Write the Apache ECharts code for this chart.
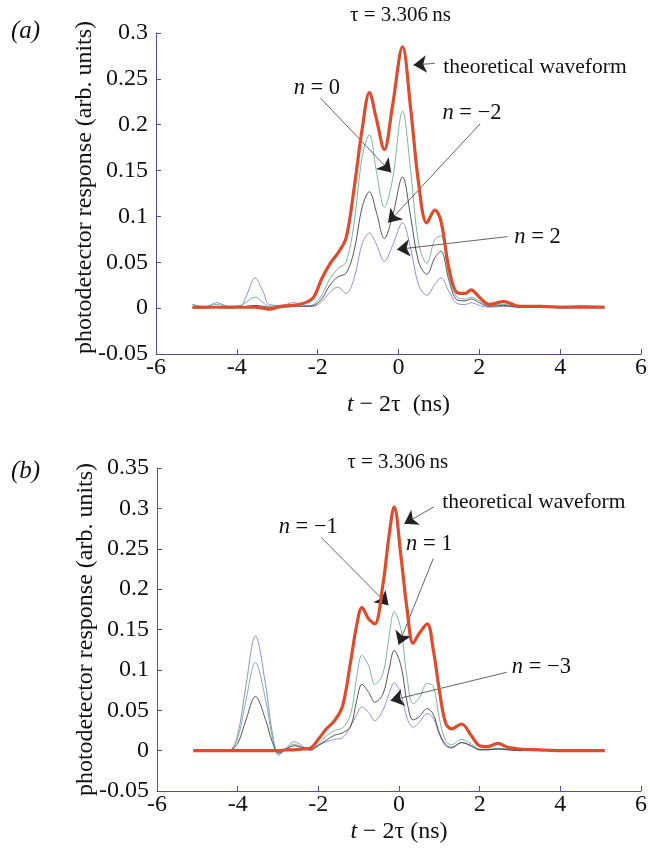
<!DOCTYPE html>
<html>
<head>
<meta charset="utf-8">
<script src="https://cdn.jsdelivr.net/npm/echarts@6/dist/echarts.min.js"></script>
<style>
  html, body { margin: 0; padding: 0; background: #fff; }
  #chart { width: 650px; height: 852px; }
</style>
</head>
<body>
<div id="chart"></div>
<script>
// ---- Panel (a): sample times (ns) and responses ----
const tA = [-5.1, -4.8, -4.5, -4.2, -3.9, -3.75, -3.55, -3.35, -3.2, -2.9, -2.6, -2.3, -2.1, -1.9, -1.7, -1.5, -1.3, -1.1, -0.9, -0.72, -0.55, -0.35, -0.15, 0.1, 0.3, 0.5, 0.7, 0.9, 1.05, 1.25, 1.45, 1.65, 1.8, 2.0, 2.25, 2.6, 3.0, 3.5, 4.0, 4.5, 5.1];
const theoryA = [0.001, 0.001, 0.001, 0.001, 0.001, 0.001, 0.001, 0.0, -0.001, 0.002, 0.003, 0.006, 0.012, 0.032, 0.048, 0.06, 0.076, 0.13, 0.195, 0.235, 0.207, 0.173, 0.22, 0.285, 0.218, 0.135, 0.093, 0.107, 0.095, 0.043, 0.017, 0.016, 0.02, 0.012, 0.004, 0.007, 0.002, 0.002, 0.001, 0.001, 0.001];
const nZeroA = [0.004, 0.002, 0.004, 0.002, 0.003, 0.007, 0.012, 0.006, 0.002, 0.003, 0.003, 0.002, 0.004, 0.014, 0.032, 0.043, 0.05, 0.092, 0.165, 0.189, 0.15, 0.11, 0.14, 0.215, 0.15, 0.07, 0.049, 0.075, 0.079, 0.035, 0.012, 0.01, 0.012, 0.008, 0.003, 0.004, 0.002, 0.003, 0.002, 0.003, 0.002];
const nMinus2A = [0.0, 0.0, 0.001, 0.0, 0.001, 0.002, 0.003, 0.002, 0.001, 0.001, 0.002, 0.002, 0.003, 0.01, 0.025, 0.034, 0.038, 0.062, 0.11, 0.127, 0.105, 0.076, 0.1, 0.143, 0.1, 0.05, 0.037, 0.055, 0.062, 0.03, 0.009, 0.008, 0.01, 0.006, 0.002, 0.003, 0.001, 0.002, 0.001, 0.002, 0.001];
const nPlus2A = [0.004, 0.001, 0.006, 0.002, 0.003, 0.015, 0.033, 0.018, 0.004, 0.003, 0.006, 0.003, 0.002, 0.007, 0.017, 0.023, 0.016, 0.032, 0.07, 0.082, 0.07, 0.051, 0.068, 0.093, 0.065, 0.025, 0.014, 0.026, 0.033, 0.018, 0.005, 0.004, 0.006, 0.003, 0.001, 0.002, 0.001, 0.001, 0.0, 0.001, 0.0];

// ---- Panel (b): sample times (ns) and responses ----
const tB = [-5.1, -4.8, -4.5, -4.2, -4.0, -3.8, -3.56, -3.3, -3.15, -2.98, -2.8, -2.6, -2.4, -2.2, -2.0, -1.8, -1.6, -1.4, -1.2, -1.05, -0.92, -0.75, -0.6, -0.4, -0.25, -0.12, 0.05, 0.2, 0.35, 0.5, 0.7, 0.85, 1.0, 1.15, 1.3, 1.55, 1.8, 2.0, 2.2, 2.45, 2.7, 3.0, 3.5, 4.0, 4.5, 5.1];
const theoryB = [0.0, 0.0, 0.0, 0.0, 0.0, 0.0, 0.0, 0.0, 0.0, 0.0, 0.001, 0.001, 0.002, 0.003, 0.014, 0.027, 0.037, 0.055, 0.11, 0.155, 0.177, 0.163, 0.157, 0.205, 0.265, 0.302, 0.24, 0.175, 0.133, 0.145, 0.157, 0.125, 0.075, 0.035, 0.027, 0.033, 0.018, 0.006, 0.005, 0.009, 0.004, 0.002, 0.001, 0.0, 0.0, 0.0];
const nMinus1B = [0.0, 0.0, 0.001, 0.0, 0.015, 0.061, 0.109, 0.061, 0.019, -0.004, 0.002, 0.008, 0.004, 0.002, 0.008, 0.018, 0.025, 0.028, 0.045, 0.09, 0.118, 0.105, 0.082, 0.095, 0.14, 0.172, 0.15, 0.09, 0.058, 0.065, 0.083, 0.08, 0.04, 0.013, 0.007, 0.014, 0.008, 0.002, 0.002, 0.003, 0.002, 0.001, 0.001, 0.001, 0.0, 0.0];
const nPlus1B = [0.0, 0.0, 0.001, 0.001, 0.009, 0.037, 0.067, 0.037, 0.012, -0.003, 0.002, 0.006, 0.004, 0.001, 0.006, 0.013, 0.019, 0.022, 0.03, 0.062, 0.082, 0.072, 0.06, 0.07, 0.1, 0.124, 0.105, 0.06, 0.038, 0.042, 0.052, 0.045, 0.022, 0.008, 0.004, 0.01, 0.006, 0.001, 0.001, 0.002, 0.001, 0.0, 0.001, 0.0, 0.0, 0.0];
const nMinus3B = [0.0, 0.0, 0.001, 0.001, 0.02, 0.079, 0.142, 0.079, 0.025, -0.006, 0.003, 0.011, 0.006, 0.0, 0.007, 0.011, 0.014, 0.016, 0.03, 0.045, 0.054, 0.047, 0.037, 0.05, 0.07, 0.084, 0.07, 0.04, 0.029, 0.035, 0.046, 0.04, 0.02, 0.006, 0.003, 0.01, 0.005, 0.001, 0.001, 0.002, 0.001, 0.0, 0.0, 0.0, 0.0, 0.0];

// ---- Axis ticks ----
const xTicks = { min: -6, max: 6, interval: 2 };
const yTicksA = { min: -0.05, max: 0.3, interval: 0.05 };
const yTicksB = { min: -0.05, max: 0.35, interval: 0.05 };

const tauText = 'τ = 3.306\u2009ns';

// annotation arrows, in data units: [tailX, tailY, headX, headY]
const arrowsA = [
  [0.90, 0.267, 0.37, 0.265],
  [-1.93, 0.229, -0.18, 0.148],
  [2.02, 0.201, -0.26, 0.093],
  [2.70, 0.078, -0.04, 0.064]
];
const arrowsB = [
  [0.87, 0.302, 0.13, 0.281],
  [-1.93, 0.264, -0.26, 0.180],
  [0.85, 0.238, -0.01, 0.131],
  [2.67, 0.097, -0.21, 0.062]
];
// text labels, in data units: [x, y, text, align]
const labelsA = [
  [0.05, 0.3195, tauText, 'center'],
  [1.11, 0.262, 'theoretical waveform', 'left'],
  [-2.02, 0.240, '{i|n} = 0', 'center'],
  [1.82, 0.213, '{i|n} = \u22122', 'center'],
  [3.44, 0.077, '{i|n} = 2', 'center']
];
const labelsB = [
  [-0.03, 0.357, tauText, 'center'],
  [1.07, 0.308, 'theoretical waveform', 'left'],
  [-2.25, 0.277, '{i|n} = \u22121', 'center'],
  [0.75, 0.256, '{i|n} = 1', 'center'],
  [3.53, 0.103, '{i|n} = \u22123', 'center']
];

const FONT = '"Liberation Serif", "DejaVu Serif", serif';
const AXIS_COLOR = '#4f4f9e';
const RED = '#de4b2d', GREEN = '#5e9f88', BLACK = '#2a2a2a', BLUE = '#7373c9';

function zip(xs, ys) { return xs.map((x, i) => [x, ys[i]]); }

function xAxisFor(gridIndex, nameGap, nameStr) {
  return {
    type: 'value', gridIndex, min: xTicks.min, max: xTicks.max, interval: xTicks.interval,
    axisLine: { onZero: false, lineStyle: { color: AXIS_COLOR, width: 1 } },
    axisTick: { inside: true, length: 5, lineStyle: { color: AXIS_COLOR } },
    splitLine: { show: false },
    axisLabel: { color: '#111', fontFamily: FONT, fontSize: 24, margin: 2 },
    name: nameStr, nameLocation: 'middle', nameGap, nameMoveOverlap: false,
    nameTextStyle: {
      color: '#111', fontFamily: FONT, fontSize: 24,
      rich: { i: { fontStyle: 'italic', fontFamily: FONT, fontSize: 24, color: '#111' } }
    }
  };
}
function yAxisFor(gridIndex, t, namePad) {
  return {
    type: 'value', gridIndex, min: t.min, max: t.max, interval: t.interval,
    axisLine: { show: true, onZero: false, lineStyle: { color: AXIS_COLOR, width: 1 } },
    axisTick: { show: true, inside: true, length: 5, lineStyle: { color: AXIS_COLOR } },
    splitLine: { show: false },
    axisLabel: { color: '#111', fontFamily: FONT, fontSize: 24, margin: 8,
      formatter: v => String(Math.round(v * 1000) / 1000) },
    name: 'photodetector response (arb. units)', nameLocation: 'middle', nameGap: 59,
    nameMoveOverlap: false,
    nameTextStyle: { color: '#111', fontFamily: FONT, fontSize: 24, padding: namePad }
  };
}
function line(name, xi, yi, xs, ys, color, width, z) {
  return {
    name, type: 'line', xAxisIndex: xi, yAxisIndex: yi, data: zip(xs, ys),
    smooth: 0.35, symbol: 'none', z,
    lineStyle: { color, width }
  };
}
function arrowSeries(xi, arrows) {
  return {
    type: 'line', xAxisIndex: xi, yAxisIndex: xi, data: [], z: 20,
    markLine: {
      silent: true, symbol: ['none', 'arrow'], symbolSize: 13,
      label: { show: false },
      lineStyle: { color: '#222', width: 0.7, type: 'solid' },
      itemStyle: { color: '#111' },
      data: arrows.map(a => [{ coord: [a[0], a[1]] }, { coord: [a[2], a[3]] }])
    }
  };
}

const chart = echarts.init(document.getElementById('chart'), null, { renderer: 'canvas' });
chart.setOption({
  animation: false,
  backgroundColor: '#fff',
  grid: [
    { left: 156, right: 6, top: 33, height: 321 },
    { left: 157, right: 5, top: 468, height: 323 }
  ],
  xAxis: [
    xAxisFor(0, 39, '{i|t} \u2212 2τ  (ns)'),
    xAxisFor(1, 29, '{i|t} \u2212 2τ (ns)')
  ],
  yAxis: [yAxisFor(0, yTicksA, [0, 0, 0, 12]), yAxisFor(1, yTicksB, [0, 0, 0, 0])],
  series: [
    line('n = 2', 0, 0, tA, nPlus2A, BLUE, 0.8, 2),
    line('n = 0', 0, 0, tA, nZeroA, GREEN, 0.8, 3),
    line('n = -2', 0, 0, tA, nMinus2A, BLACK, 0.8, 4),
    line('theoretical waveform', 0, 0, tA, theoryA, RED, 3.2, 5),
    arrowSeries(0, arrowsA),
    line('n = -3', 1, 1, tB, nMinus3B, BLUE, 0.8, 2),
    line('n = -1', 1, 1, tB, nMinus1B, GREEN, 0.8, 3),
    line('n = 1', 1, 1, tB, nPlus1B, BLACK, 0.8, 4),
    line('theoretical waveform', 1, 1, tB, theoryB, RED, 3.2, 5),
    arrowSeries(1, arrowsB)
  ]
});

// place text annotations from data units
function textEls(gridIndex, labels) {
  return labels.map(l => {
    const p = chart.convertToPixel({ gridIndex }, [l[0], l[1]]);
    const isTau = l[2] === tauText;
    const isTheory = l[2] === 'theoretical waveform';
    const fs = isTau ? 21 : (isTheory ? 21.5 : 22.5);
    return {
      type: 'text', x: p[0], y: p[1], z: 30,
      style: {
        text: l[2], align: l[3], verticalAlign: 'middle',
        fontFamily: FONT, fontSize: fs, fill: '#111',
        rich: { i: { fontStyle: 'italic', fontFamily: FONT, fontSize: fs, fill: '#111' } }
      }
    };
  });
}
chart.setOption({
  graphic: [
    { type: 'text', left: 11, top: 19, style: { text: '(a)', fontFamily: FONT, fontStyle: 'italic', fontSize: 25, fill: '#111' } },
    { type: 'text', left: 11, top: 459, style: { text: '(b)', fontFamily: FONT, fontStyle: 'italic', fontSize: 25, fill: '#111' } }
  ].concat(textEls(0, labelsA), textEls(1, labelsB))
});
</script>
</body>
</html>
